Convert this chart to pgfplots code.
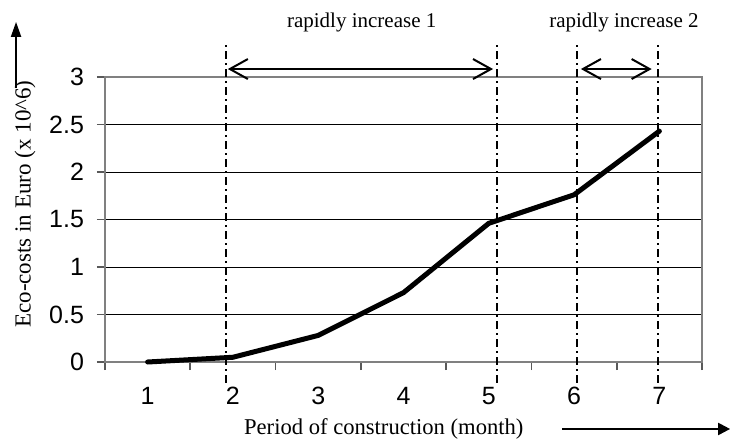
\documentclass[border=0pt]{standalone}
\usepackage{pgfplots}
\pgfplotsset{compat=1.18}
\usepackage{fontspec}
\setmainfont{Liberation Serif}
\newfontfamily\arial{Liberation Sans}
\usetikzlibrary{arrows.meta,calc}
\begin{document}
\begin{tikzpicture}
\begin{axis}[
  scale only axis, width=298.5pt, height=142.5pt,
  xmin=0.5, xmax=7.5, ymin=0, ymax=3,
  clip=false,
  xtick={0.5,1.5,2.5,3.5,4.5,5.5,6.5,7.5}, xticklabels={},
  extra x ticks={1,2,3,4,5,6,7},
  extra x tick style={major tick length=0pt, grid=none},
  ytick={0,0.5,1,1.5,2,2.5,3},
  tick align=outside, major tick length=4pt,
  xtick pos=bottom, ytick pos=left,
  tick style={gray!70!black, line width=0.8pt},
  ymajorgrids, grid style={black, line width=0.5pt},
  axis line style={gray, line width=1pt},
  /pgf/number format/assume math mode=true,
  ticklabel style={font=\arial\fontsize{12.5}{14}\selectfont},
  yticklabel style={xshift=-3pt},
  xticklabel style={yshift=-9pt},
  xlabel={Period of construction (month)},
  xlabel style={at={(axis description cs:0.467,-0.235)}, anchor=center, font=\fontsize{11.3}{13}\selectfont},
  ylabel={Eco-costs in Euro (x 10\string^6)},
  ylabel style={at={(axis description cs:-0.134,0.554)}, anchor=center, rotate=0, font=\fontsize{11.5}{13}\selectfont},
]
\addplot[black, line width=2.5pt, line cap=round, line join=round]
  coordinates {(1,0) (2,0.05) (3,0.28) (4,0.73) (5,1.46) (6,1.76) (7,2.43)};
\addplot[black, line width=0.9pt, dash pattern=on 4pt off 2pt on 1pt off 2pt] coordinates {(1.92,-0.22) (1.92,3.36)};
\addplot[black, line width=0.9pt, dash pattern=on 4pt off 2pt on 1pt off 2pt] coordinates {(5.10,-0.22) (5.10,3.36)};
\addplot[black, line width=0.9pt, dash pattern=on 4pt off 2pt on 1pt off 2pt] coordinates {(6.03,-0.22) (6.03,3.36)};
\addplot[black, line width=0.9pt, dash pattern=on 4pt off 2pt on 1pt off 2pt] coordinates {(6.98,-0.22) (6.98,3.36)};
\draw[{Straight Barb[length=9pt,width=10pt]}-{Straight Barb[length=9pt,width=10pt]}, line width=1pt] (axis cs:1.94,3.084) -- (axis cs:5.05,3.084);
\draw[{Straight Barb[length=9pt,width=10pt]}-{Straight Barb[length=9pt,width=10pt]}, line width=1pt] (axis cs:6.08,3.084) -- (axis cs:6.91,3.084);
\node[font=\fontsize{10.5}{12}\selectfont] at (axis cs:3.51,3.57) {rapidly increase 1};
\node[font=\fontsize{10.5}{12}\selectfont] at (axis cs:6.585,3.57) {rapidly increase 2};
\draw[-{Triangle[length=7.5pt,width=5pt]}, line width=1pt] (axis cs:-0.543,2.88) -- (axis cs:-0.543,3.58);
\draw[-{Triangle[length=6pt,width=6pt]}, line width=1pt] (axis cs:5.86,-0.705) -- (axis cs:7.83,-0.705);
\coordinate (bl) at (rel axis cs:0,0);
\coordinate (tr) at (rel axis cs:1,1);
\end{axis}
\pgfresetboundingbox
\path ($(bl)+(-52.5pt,-38.5pt)$) rectangle ($(tr)+(14pt,38.5pt)$);
\end{tikzpicture}
\end{document}
